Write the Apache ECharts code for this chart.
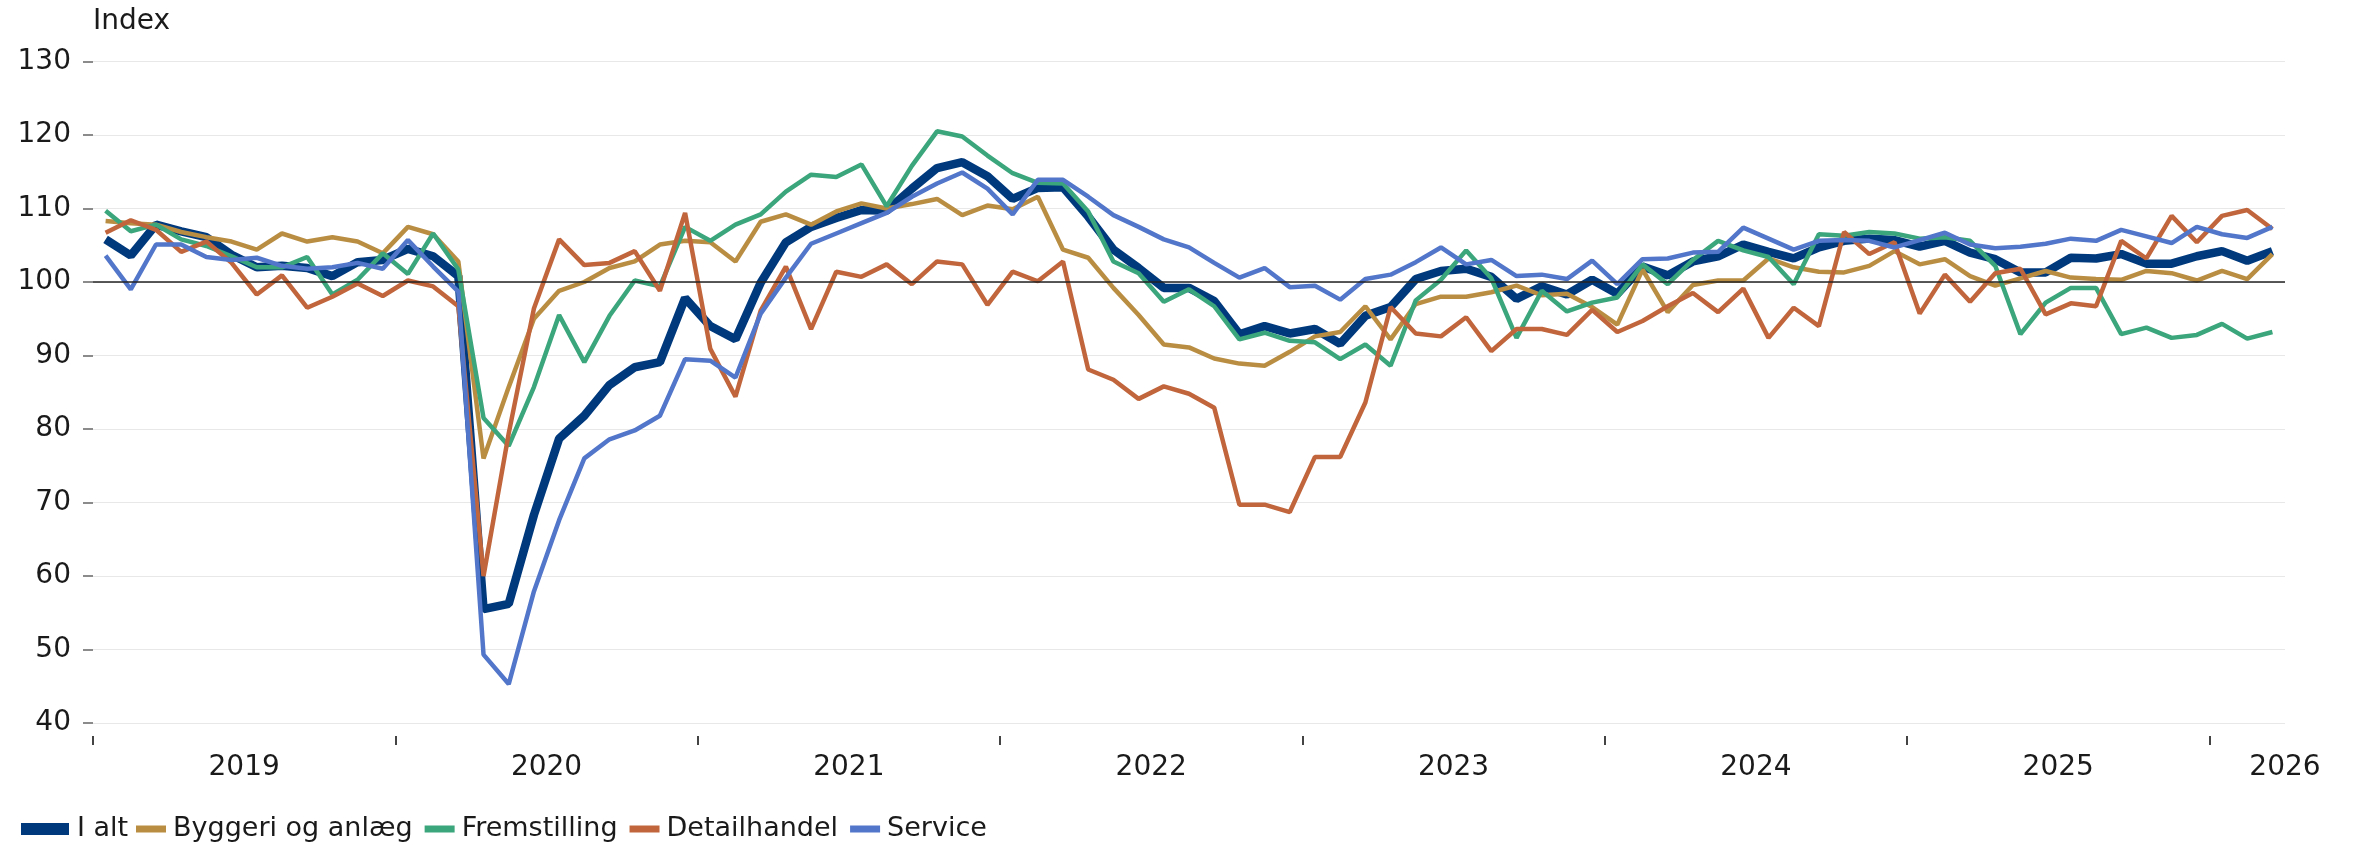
<!DOCTYPE html>
<html>
<head>
<meta charset="utf-8">
<style>
  html, body { margin: 0; padding: 0; background: #fff; }
  #chart { width: 2353px; height: 843px; }
</style>
<script src="https://cdn.jsdelivr.net/npm/echarts@6/dist/echarts.min.js"></script>
</head>
<body>
<div id="chart"></div>
<script>
// monthly index, Jan 2019 - Mar 2026
const iAlt = [
  105.8, 103.6, 107.8, 106.9, 106.1, 103.7, 102.0, 102.2, 101.9, 100.8, 102.7, 103.0,
  104.5, 103.5, 100.8, 55.5, 56.2, 68.3, 78.7, 81.8, 86.0, 88.4, 89.1, 97.8,
  94.0, 92.2, 99.9, 105.4, 107.5, 108.7, 109.8, 109.7, 112.7, 115.5, 116.3, 114.4,
  111.3, 112.8, 112.9, 108.9, 104.4, 101.9, 99.2, 99.2, 97.4, 92.9, 94.0, 93.0,
  93.6, 91.6, 95.4, 96.6, 100.4, 101.5, 101.8, 100.7, 97.7, 99.4, 98.3, 100.3,
  98.4, 102.1, 100.9, 102.8, 103.5, 105.1, 104.1, 103.2, 104.7, 105.6, 105.9, 105.7,
  104.8, 105.6, 104.0, 103.1, 101.3, 101.3, 103.3, 103.2, 103.8, 102.5, 102.5, 103.5,
  104.2, 102.9, 104.2
]
const byggeri = [
  108.3, 108.0, 107.8, 106.8, 106.1, 105.5, 104.4, 106.6, 105.5, 106.1, 105.5, 103.9,
  107.5, 106.5, 102.8, 76.0, 85.7, 95.0, 98.8, 100.0, 101.9, 102.8, 105.1, 105.6,
  105.4, 102.8, 108.2, 109.2, 107.8, 109.6, 110.7, 110.0, 110.6, 111.3, 109.1, 110.4,
  109.9, 111.6, 104.4, 103.3, 99.2, 95.5, 91.5, 91.1, 89.6, 88.9, 88.6, 90.5,
  92.6, 93.2, 96.7, 92.2, 97.0, 98.0, 98.0, 98.6, 99.5, 98.2, 98.4, 96.6,
  94.2, 101.7, 95.9, 99.6, 100.2, 100.2, 103.2, 102.0, 101.4, 101.3, 102.2, 104.2,
  102.4, 103.1, 100.8, 99.5, 100.5, 101.5, 100.6, 100.4, 100.3, 101.5, 101.2, 100.2,
  101.5, 100.4, 103.8
]
const fremstilling = [
  109.7, 106.9, 107.8, 105.8, 104.9, 103.5, 102.0, 102.0, 103.4, 98.3, 100.3, 103.9,
  101.1, 106.6, 101.7, 81.5, 77.7, 85.7, 95.5, 89.1, 95.4, 100.2, 99.4, 107.5,
  105.6, 107.8, 109.2, 112.3, 114.6, 114.3, 116.0, 110.3, 115.8, 120.5, 119.8, 117.2,
  114.8, 113.5, 113.4, 109.6, 102.8, 101.2, 97.3, 99.0, 96.7, 92.2, 93.1, 92.0,
  91.8, 89.5, 91.5, 88.6, 97.5, 100.3, 104.3, 100.5, 92.4, 98.8, 96.0, 97.2,
  97.9, 102.4, 99.7, 103.0, 105.6, 104.3, 103.4, 99.7, 106.5, 106.3, 106.8, 106.6,
  105.9, 106.1, 105.6, 102.2, 92.9, 97.2, 99.2, 99.2, 92.9, 93.8, 92.4, 92.8,
  94.3, 92.3, 93.2
]
const detailhandel = [
  106.7, 108.4, 107.1, 104.1, 105.5, 102.6, 98.3, 100.9, 96.5, 98.0, 99.8, 98.1,
  100.2, 99.4, 96.7, 60.0, 79.4, 96.4, 105.8, 102.3, 102.6, 104.2, 98.8, 109.4,
  90.9, 84.4, 96.1, 102.1, 93.6, 101.4, 100.7, 102.4, 99.7, 102.8, 102.4, 96.9,
  101.4, 100.1, 102.8, 88.1, 86.7, 84.1, 85.8, 84.8, 82.9, 69.7, 69.7, 68.7,
  76.2, 76.2, 83.6, 96.6, 93.0, 92.6, 95.2, 90.6, 93.6, 93.6, 92.8, 96.2,
  93.2, 94.7, 96.7, 98.5, 95.9, 99.1, 92.4, 96.5, 94.0, 106.8, 103.8, 105.4,
  95.7, 101.0, 97.3, 101.2, 101.8, 95.6, 97.1, 96.7, 105.6, 103.2, 109.0, 105.4,
  109.0, 109.8, 107.2
]
const service = [
  103.6, 99.0, 105.1, 105.1, 103.4, 103.0, 103.3, 102.2, 101.8, 102.0, 102.6, 101.8,
  105.7, 102.1, 98.7, 49.3, 45.3, 57.9, 67.6, 76.0, 78.6, 79.8, 81.8, 89.5,
  89.3, 87.0, 95.7, 100.6, 105.2, 106.6, 108.0, 109.4, 111.6, 113.4, 114.9, 112.7,
  109.2, 113.9, 113.9, 111.6, 109.1, 107.5, 105.8, 104.7, 102.6, 100.6, 101.9, 99.3,
  99.5, 97.6, 100.4, 101.0, 102.7, 104.7, 102.4, 103.0, 100.8, 101.0, 100.4, 102.9,
  99.7, 103.1, 103.2, 104.0, 104.1, 107.4, 105.9, 104.4, 105.6, 105.7, 105.6, 104.7,
  105.7, 106.7, 105.1, 104.6, 104.8, 105.2, 105.9, 105.6, 107.1, 106.2, 105.3, 107.5,
  106.5, 106.0, 107.5
]

const seriesNames = ['I alt', 'Byggeri og anlæg', 'Fremstilling', 'Detailhandel', 'Service']
const yearLabels = ['2019', '2020', '2021', '2022', '2023', '2024', '2025', '2026']
// axis positions in months from Jan 2019
const yearTicks = [0, 12, 24, 36, 48, 60, 72, 84]
const yearLabelPos = [6, 18, 30, 42, 54, 66, 78, 87]
const monthCount = 87

const FONT = 'DejaVu Sans'
const TEXT = '#1a1a1a'

const lines = [
  { name: seriesNames[0], values: iAlt, color: '#003a7d', width: 8.5 },
  { name: seriesNames[1], values: byggeri, color: '#b98e43', width: 4.5 },
  { name: seriesNames[2], values: fremstilling, color: '#3ba57c', width: 4.5 },
  { name: seriesNames[3], values: detailhandel, color: '#c1663c', width: 4.5 },
  { name: seriesNames[4], values: service, color: '#5276c9', width: 4.5 },
]

const chart = echarts.init(document.getElementById('chart'))

const legendText = {
  fontFamily: FONT,
  fontSize: 27,
  color: TEXT,
  lineHeight: 28,
}

chart.setOption({
  animation: false,
  backgroundColor: '#fff',
  grid: { left: 93, right: 68, top: 61.5, bottom: 120 },
  legend: [
    {
      data: [seriesNames[0]],
      left: 16,
      top: 810,
      icon: 'rect',
      itemWidth: 48,
      itemHeight: 12,
      textStyle: Object.assign({ padding: [0, 0, 0, 3] }, legendText),
    },
    {
      data: seriesNames.slice(1),
      left: 131,
      top: 810,
      icon: 'rect',
      itemWidth: 30,
      itemHeight: 7,
      itemGap: 12,
      textStyle: Object.assign({ padding: [0, 0, 0, 2] }, legendText),
    },
  ],
  xAxis: {
    type: 'value',
    min: 0,
    max: monthCount,
    offset: 13,
    axisLine: { show: false },
    axisTick: {
      show: true,
      length: 9,
      customValues: yearTicks,
      lineStyle: { color: '#444', width: 2 },
    },
    axisLabel: {
      customValues: yearLabelPos,
      formatter: (v) => yearLabels[yearLabelPos.indexOf(v)],
      margin: 18,
      fontFamily: FONT,
      fontSize: 28,
      color: TEXT,
    },
    splitLine: { show: false },
  },
  yAxis: {
    type: 'value',
    min: 40,
    max: 130,
    interval: 10,
    name: 'Index',
    nameLocation: 'end',
    nameGap: 26,
    nameTextStyle: {
      fontFamily: FONT,
      fontSize: 28,
      color: TEXT,
      align: 'left',
      verticalAlign: 'bottom',
      lineHeight: 28,
    },
    axisLine: { show: false },
    axisTick: { show: true, length: 10, lineStyle: { color: '#666', width: 1.5 } },
    axisLabel: { margin: 22, fontFamily: FONT, fontSize: 28, color: TEXT },
    splitLine: { lineStyle: { color: '#e8e8e8', width: 1 } },
  },
  series: [
    {
      name: 'ref',
      type: 'line',
      data: [],
      z: 1,
      markLine: {
        silent: true,
        symbol: ['none', 'none'],
        label: { show: false },
        lineStyle: { color: '#222', width: 1.5, type: 'solid' },
        data: [{ yAxis: 100 }],
      },
    },
  ].concat(lines.map((s) => ({
    name: s.name,
    type: 'line',
    data: s.values.map((v, i) => [i + 0.5, v]),
    showSymbol: false,
    symbol: 'none',
    z: 2,
    itemStyle: { color: s.color },
    lineStyle: { color: s.color, width: s.width, join: 'bevel' },
  }))),
})
</script>
</body>
</html>
